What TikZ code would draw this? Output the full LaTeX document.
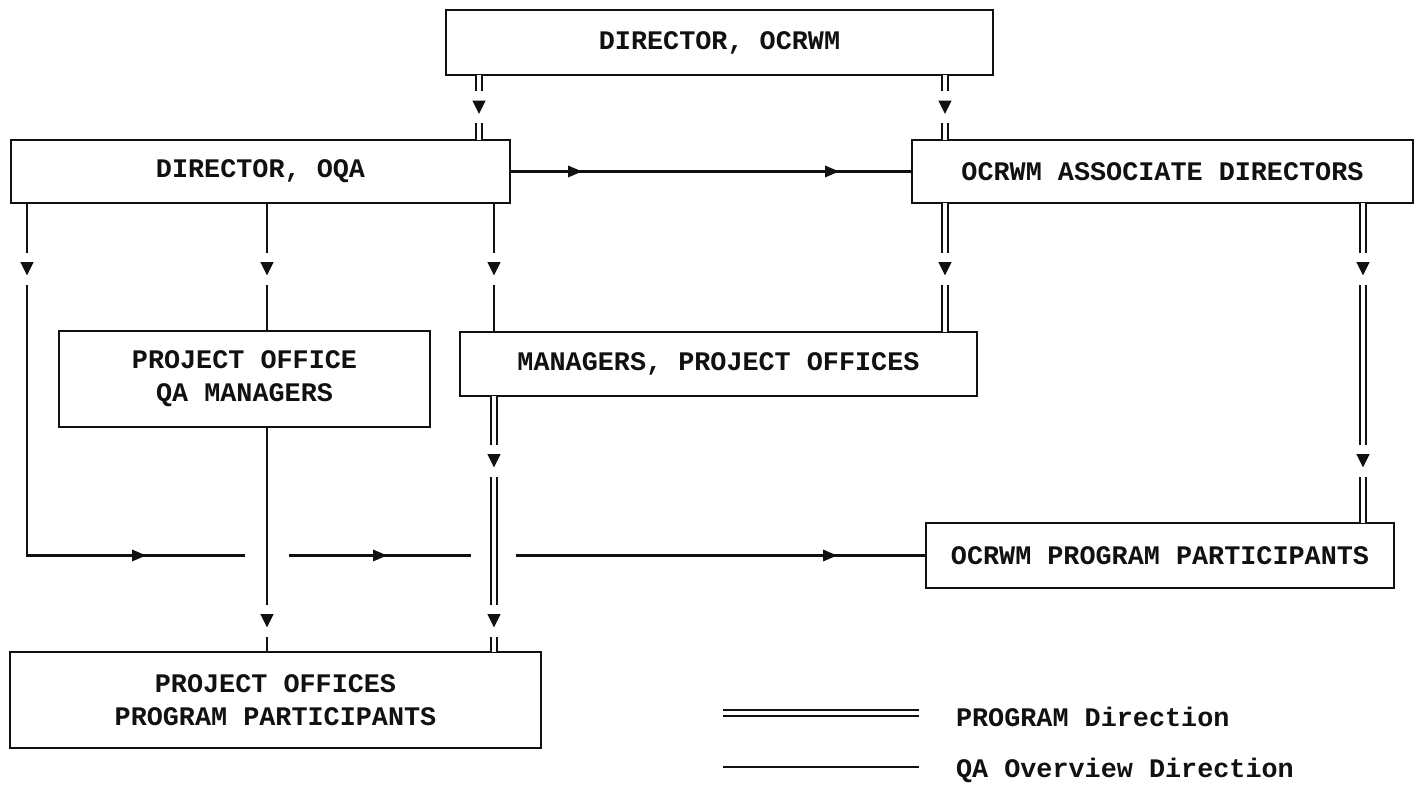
\documentclass[tikz,border=0pt]{standalone}
\usepackage{fontspec}
\setmonofont{Liberation Mono}
\usetikzlibrary{decorations.markings}
\definecolor{FlowInk}{HTML}{111111}
\definecolor{FlowPaper}{HTML}{FFFFFF}
\newcommand\gapdown{%
  \fill[FlowPaper] (-8pt,-5pt) rectangle (8pt,5pt);
  \fill[FlowInk] (3.2pt,0) -- (-3.4pt,3.3pt) -- (-3.4pt,-3.3pt) -- cycle;}
\newcommand\headon{%
  \fill[FlowInk] (3.5pt,0) -- (-3.5pt,3pt) -- (-3.5pt,-3pt) -- cycle;}
\tikzset{
  every node/.style={font=\ttfamily\bfseries\fontsize{13.4}{16.5}\selectfont, text=FlowInk},
  office/.style={draw=FlowInk, line width=1.4pt, inner sep=0pt, outer sep=0pt, align=center},
  qa/.style={draw=FlowInk, line width=1.4pt},
  program/.style={draw=FlowInk, double=FlowPaper, double distance=1.6pt, line width=1pt},
  gapmark/.style={postaction={decorate, decoration={markings, mark=at position #1 with {\gapdown}}}},
  linemark/.style={postaction={decorate, decoration={markings, mark=at position #1 with {\headon}}}},
}
\begin{document}
\begin{tikzpicture}[x=0.5pt,y=-0.5pt]
  \useasboundingbox (0,0) rectangle (1421,796);

  % Offices
  \node[office, minimum width=273.5pt, minimum height=32.5pt] (ocrwm) at (719.5,42.5) {DIRECTOR, OCRWM};
  \node[office, minimum width=249.5pt, minimum height=31.5pt] (oqa) at (260.5,171.5) {DIRECTOR, OQA};
  \node[office, minimum width=250.5pt, minimum height=31.5pt] (assoc) at (1162.5,171.5) {OCRWM ASSOCIATE DIRECTORS};
  \node[office, minimum width=185.5pt, minimum height=48pt] (poqa) at (244.5,379) {PROJECT OFFICE\\QA MANAGERS};
  \node[office, minimum width=258.5pt, minimum height=32pt] (mgrs) at (718.5,364) {MANAGERS, PROJECT OFFICES};
  \node[office, minimum width=234pt, minimum height=32.5pt] (ocrwmpp) at (1160,555.5) {OCRWM PROGRAM PARTICIPANTS};
  \node[office, minimum width=265.5pt, minimum height=48pt] (popp) at (275.5,700) {PROJECT OFFICES\\PROGRAM PARTICIPANTS};

  % Program direction from the top
  \draw[program, gapmark=0.5] (ocrwm.south -| 479,0) -- (oqa.north -| 479,0);
  \draw[program, gapmark=0.5] (ocrwm.south -| 945,0) -- (assoc.north -| 945,0);
  \draw[program, gapmark=33pt] (assoc.south -| 945,0) -- (mgrs.north -| 945,0);
  \draw[program, gapmark=33pt, gapmark=129pt] (assoc.south -| 1363,0) -- (ocrwmpp.north -| 1363,0);

  % QA overview lines
  \draw[qa, linemark=32.5pt, linemark=161pt] (oqa) -- (assoc);
  \draw[qa, gapmark=33pt] (oqa.south -| 267,0) -- (poqa.north -| 267,0);
  \draw[qa, gapmark=33pt] (oqa.south -| 494,0) -- (mgrs.north -| 494,0);
  \draw[qa, gapmark=33pt, linemark=232.25pt, linemark=352.75pt, linemark=577.75pt]
        (oqa.south -| 27,0) |- (ocrwmpp.west);

  % Breaks where the vertical lines cross
  \coordinate (crossA) at (267,555.5);
  \coordinate (crossB) at (494,555.5);
  \fill[FlowPaper] (crossA) ++(-22,-5) rectangle ++(44,10);
  \fill[FlowPaper] (crossB) ++(-23,-5) rectangle ++(45,10);

  \draw[qa, gapmark=97pt] (poqa.south -| 267,0) -- (popp.north -| 267,0);
  \draw[program, gapmark=32.5pt, gapmark=112.5pt] (mgrs.south -| 494,0) -- (popp.north -| 494,0);

  % Legend
  \node[anchor=west] (lgprog) at (949,717) {PROGRAM Direction};
  \node[anchor=west] (lgqa) at (949,770) {QA Overview Direction};
  \draw[program] ([xshift=-15pt,yshift=2pt]lgprog.west) -- ++(-98pt,0);
  \draw[qa] ([xshift=-15pt,yshift=1.5pt]lgqa.west) -- ++(-98pt,0);
\end{tikzpicture}
\end{document}
